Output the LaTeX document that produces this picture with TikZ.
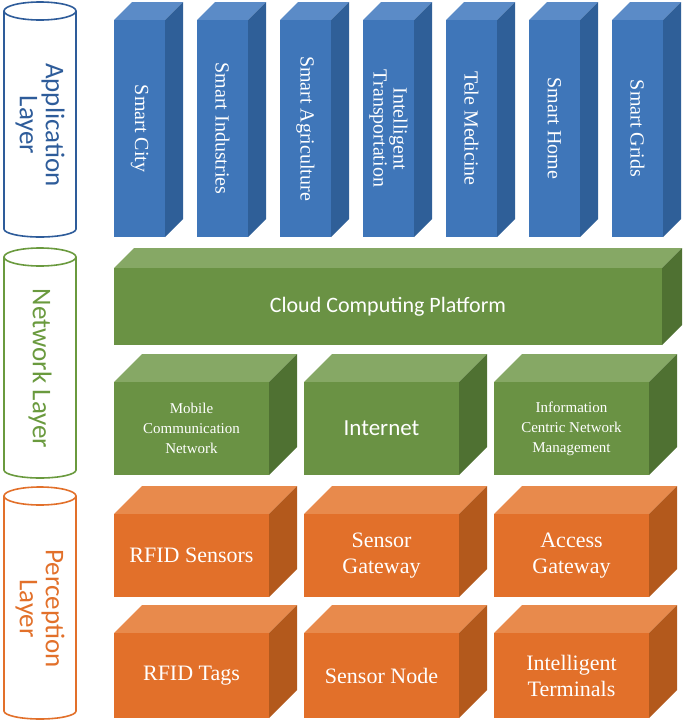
\documentclass[tikz,border=0pt]{standalone}
\usepackage{fontspec}
\setmainfont{Liberation Serif}
\newfontfamily\calfnt{Carlito}
\definecolor{bF}{HTML}{3F76B9}\definecolor{bT}{HTML}{5B8BC7}\definecolor{bS}{HTML}{2F5F98}
\definecolor{gF}{HTML}{6A9244}\definecolor{gT}{HTML}{86A865}\definecolor{gS}{HTML}{4F7132}
\definecolor{oF}{HTML}{E2702A}\definecolor{oT}{HTML}{E88A4C}\definecolor{oS}{HTML}{B3591C}
\definecolor{bL}{HTML}{2E5C9A}\definecolor{gL}{HTML}{6A9A3E}\definecolor{oL}{HTML}{E2702A}
\newcommand\cub[9]{% name, x, y(top of front), w, h, d, colour prefix, font, text
  \fill[#7T] (#2,-#3) -- ++(#6,#6) -- ++(#4,0) -- ++(-#6,-#6) -- cycle;
  \fill[#7S] (#2+#4,-#3) -- ++(#6,#6) -- ++(0,-#5) -- ++(-#6,-#6) -- cycle;
  \fill[#7F] (#2,-#3) rectangle ++(#4,-#5);
  \node[text=white,align=center,#8] (#1) at (#2+#4/2,-#3-#5/2) {#9};}
\newcommand\cyl[6]{% name, ytop, ybottom, colour, text, ...
  \draw[#4,line width=1.6pt,fill=white] (4,-#2) -- (4,-#3) arc[start angle=180,end angle=360,x radius=36,y radius=8] -- (76,-#2);
  \draw[#4,line width=1.6pt] (40,-#2) ellipse[x radius=36,y radius=9];
  \node[#4,rotate=-90,align=center,font=\calfnt\fontsize{27}{26}\selectfont] (#1) at (40,-#2/2-#3/2-5) {#5};}
\begin{document}
\begin{tikzpicture}[x=1pt,y=1pt]
\useasboundingbox (0,0) rectangle (685,-726);
\cyl{app}{11}{229}{bL}{Application\\Layer}{}
\cyl{net}{257}{470}{gL}{Network Layer}{}
\cyl{per}{496}{711}{oL}{Perception\\Layer}{}
\foreach \i/\t [count=\k] in {0/Smart City,1/Smart Industries,2/Smart Agriculture,3/Intelligent\\Transportation,4/Tele Medicine,5/Smart Home,6/Smart Grids}{
  \cub{a\k}{114+83*\i}{20}{51}{217}{18}{b}{rotate=-90,font=\fontsize{20}{20}\selectfont}{\t}}
\cub{cloud}{114}{268}{548}{77}{20}{g}{font=\calfnt\fontsize{22}{22}\selectfont}{Cloud Computing Platform}
\cub{mob}{114}{382}{155}{93}{28}{g}{font=\fontsize{15}{20}\selectfont}{Mobile\\Communication\\Network}
\cub{inet}{304}{382}{155}{93}{28}{g}{font=\calfnt\fontsize{23}{23}\selectfont}{Internet}
\cub{icn}{494}{382}{155}{93}{28}{g}{font=\fontsize{15}{20}\selectfont}{Information\\Centric Network\\Management}
\cub{rs}{114}{514}{155}{83}{28}{o}{font=\fontsize{22}{26}\selectfont}{RFID Sensors}
\cub{sg}{304}{514}{155}{83}{28}{o}{font=\fontsize{22}{26}\selectfont}{Sensor\\Gateway}
\cub{ag}{494}{514}{155}{83}{28}{o}{font=\fontsize{22}{26}\selectfont}{Access\\Gateway}
\cub{rt}{114}{633}{155}{85}{28}{o}{font=\fontsize{22}{26}\selectfont}{RFID Tags}
\cub{sn}{304}{633}{155}{85}{28}{o}{font=\fontsize{22}{26}\selectfont}{Sensor Node}
\cub{it}{494}{633}{155}{85}{28}{o}{font=\fontsize{22}{26}\selectfont}{Intelligent\\Terminals}
\end{tikzpicture}
\end{document}
